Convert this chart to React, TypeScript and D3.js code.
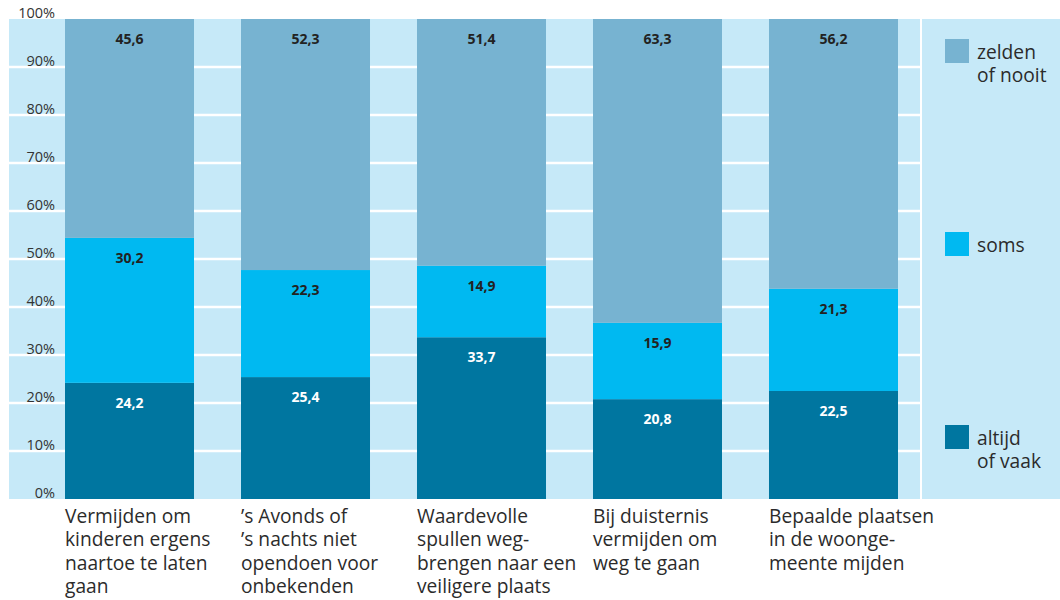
import * as d3 from "d3";

const categories = [
  ["Vermijden om", "kinderen ergens", "naartoe te laten", "gaan"],
  ["’s Avonds of", "’s nachts niet", "opendoen voor", "onbekenden"],
  ["Waardevolle", "spullen weg-", "brengen naar een", "veiligere plaats"],
  ["Bij duisternis", "vermijden om", "weg te gaan"],
  ["Bepaalde plaatsen", "in de woonge-", "meente mijden"],
];

const altijd = [24.2, 25.4, 33.7, 20.8, 22.5];
const soms = [30.2, 22.3, 14.9, 15.9, 21.3];
const zelden = [45.6, 52.3, 51.4, 63.3, 56.2];

const seriesKeys = ["altijd", "soms", "zelden"];
const seriesColors = ["#0076a0", "#00b9f1", "#77b3d1"];
const labelColors = ["#ffffff", "#222222", "#222222"];
const legendLabels = [["altijd", "of vaak"], ["soms"], ["zelden", "of nooit"]];
const yTicks = [0, 10, 20, 30, 40, 50, 60, 70, 80, 90, 100];

const W = 1060;
const H = 600;
const panelLeft = 9;
const panelRight = 920;
const legendLeft = 922;
const top = 19;
const bottom = 499;
const bg = "#c6e9f8";
const font = "'Open Sans', sans-serif";

export default function App() {
  const rows = categories.map((_, i) => ({
    i,
    altijd: altijd[i],
    soms: soms[i],
    zelden: zelden[i],
  }));
  const stack = d3.stack<any>().keys(seriesKeys)(rows);

  const x = d3
    .scaleBand<number>()
    .domain(d3.range(categories.length))
    .range([65, 898])
    .paddingInner(0.267)
    .paddingOuter(0);
  const y = d3.scaleLinear().domain([0, 100]).range([bottom, top]);

  const fmt = (v: number) => v.toFixed(1).replace(".", ",");
  // legend items are centred next to their swatch
  const legendY = [437, 244, 51];

  return (
    <svg
      width={W}
      height={H}
      style={{ position: "absolute", left: 0, top: 0, display: "block" }}
      fontFamily={font}
    >
      <rect x={0} y={0} width={W} height={H} fill="#ffffff" />
      <rect x={panelLeft} y={top} width={panelRight - panelLeft} height={bottom - top} fill={bg} />
      <rect x={legendLeft} y={top} width={W - legendLeft} height={bottom - top} fill={bg} />

      {yTicks.slice(1, -1).map((t) => (
        <line
          key={t}
          x1={panelLeft}
          x2={panelRight}
          y1={y(t)}
          y2={y(t)}
          stroke="#ffffff"
          strokeWidth={2.5}
        />
      ))}
      {yTicks.map((t) => (
        <text
          key={t}
          x={55}
          y={y(t) - 1}
          textAnchor="end"
          fontSize={14.5}
          fill="#333333"
        >
          {t}%
        </text>
      ))}

      {stack.map((s, k) =>
        s.map((d, i) => (
          <g key={`${k}-${i}`}>
            <rect
              x={x(i)}
              y={y(d[1])}
              width={x.bandwidth()}
              height={y(d[0]) - y(d[1])}
              fill={seriesColors[k]}
            />
            <text
              x={(x(i) as number) + x.bandwidth() / 2}
              y={y(d[1]) + 25}
              textAnchor="middle"
              fontSize={14}
              fontWeight="bold"
              fill={labelColors[k]}
            >
              {fmt(d[1] - d[0])}
            </text>
          </g>
        ))
      )}

      {categories.map((lines, i) => (
        <text key={i} x={x(i)} y={523} fontSize={19.2} fill="#2b2b2b">
          {lines.map((l, j) => (
            <tspan key={j} x={x(i)} dy={j === 0 ? 0 : 23.3}>
              {l}
            </tspan>
          ))}
        </text>
      ))}

      {seriesKeys.map((key, k) => (
        <g key={key}>
          <rect x={945} y={legendY[k] - 12} width={24} height={24} fill={seriesColors[k]} />
          <text x={977} y={legendY[k] + 8} fontSize={19.2} fill="#2b2b2b">
            {legendLabels[k].map((l, j) => (
              <tspan key={j} x={977} dy={j === 0 ? 0 : 23.3}>
                {l}
              </tspan>
            ))}
          </text>
        </g>
      ))}
    </svg>
  );
}
